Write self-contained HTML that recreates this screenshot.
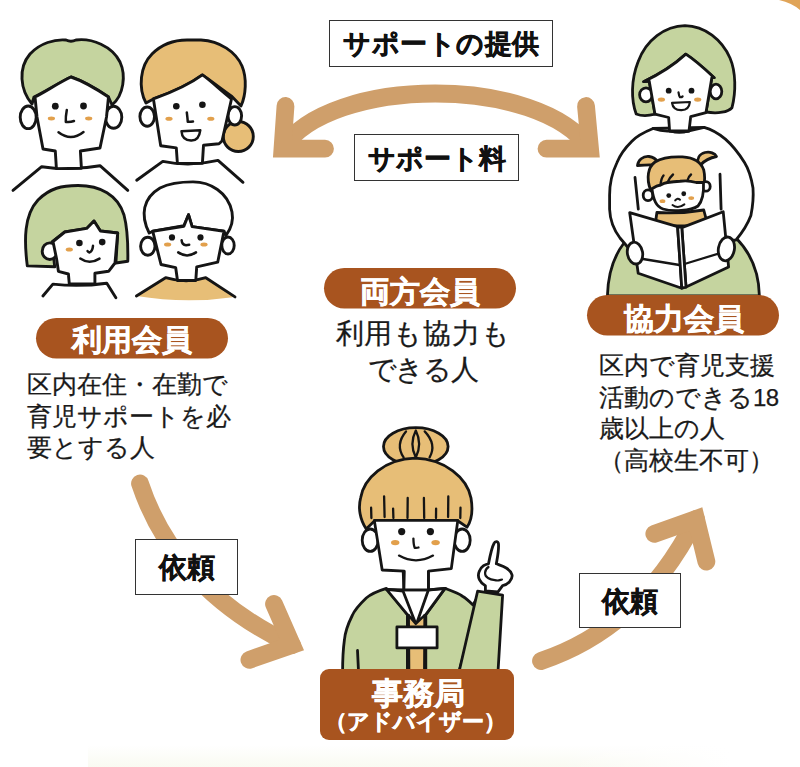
<!DOCTYPE html>
<html lang="ja">
<head>
<meta charset="utf-8">
<style>
html,body{margin:0;padding:0;background:#fff;}
body{text-spacing-trim:space-all;width:800px;height:767px;position:relative;overflow:hidden;font-family:"Liberation Sans",sans-serif;color:#1a1a1a;}
svg{position:absolute;left:0;top:0;}
.t{position:absolute;white-space:nowrap;line-height:1;}
.box{position:absolute;border:1.5px solid #333;background:#fff;box-sizing:border-box;}
.lbl{position:absolute;font-weight:bold;color:#111;-webkit-text-stroke:0.5px #111;white-space:nowrap;line-height:1;}
.pill{position:absolute;color:#fff;font-weight:bold;-webkit-text-stroke:0.5px #fff;white-space:nowrap;line-height:1;}
.p{position:absolute;font-size:25px;line-height:31.5px;white-space:nowrap;color:#1a1a1a;-webkit-text-stroke:0.25px #1a1a1a;}
</style>
</head>
<body>
<svg width="800" height="767" viewBox="0 0 800 767">
  <!-- bottom cream band -->
  <defs><linearGradient id="band" x1="0" y1="0" x2="0" y2="1"><stop offset="0" stop-color="#FFFFFF"/><stop offset="1" stop-color="#F9FAF1"/></linearGradient><linearGradient id="fadeR" x1="0" y1="0" x2="1" y2="0"><stop offset="0" stop-color="#fff" stop-opacity="0"/><stop offset="0.9" stop-color="#fff" stop-opacity="1"/></linearGradient></defs>
  <rect x="88" y="745" width="660" height="23" fill="url(#band)"/>
  <rect x="560" y="740" width="190" height="28" fill="url(#fadeR)"/>
  <!-- top right corner -->
  <path d="M779,0 Q792,3 800,10 L800,0 Z" fill="#E0A458"/>

  <g id="arrows" fill="none" stroke="#CF9F6B" stroke-width="17.8" stroke-linecap="round" stroke-linejoin="miter">
    <path d="M282,149 C330,75 540,75 590,149" stroke-linecap="butt"/>
    <path d="M285.5,106 L282.5,148.7 L325,148.7"/>
    <path d="M586,106 L590,148.7 L546.5,148.7"/>
    <path d="M140,483.5 C158.8,540.2 201.6,601.8 292,645" stroke-linecap="round"/>
    <path d="M274,604 L292,645 L249.4,659.8"/>
    <path d="M541,661 C600,641 654,601 696,519"/>
    <path d="M654.3,533.8 L696,519 L706.4,561.7"/>
  </g>


  <g id="left-group" stroke="#151515" stroke-width="2.9" stroke-linejoin="round" stroke-linecap="round">
    <!-- face 1 shoulders -->
    <path d="M13,190.4 L41.7,166.7 Q70,171 100,165.7 L127.8,190.4" fill="#fff"/>
    <!-- face 1 -->
    <path d="M32,104 C20,90 18,68 30,54 C40,43 55,39 66,40 Q71,42.5 76,40 C92,38 112,46 120,62 C126,75 124,95 112,105 L108.5,97 C95,88 80,80 71,77 C60,82 45,92 34,97 Z" fill="#C5D49F"/>
    <ellipse cx="28.2" cy="117.3" rx="8" ry="11.3" fill="#fff"/>
    <ellipse cx="113.6" cy="117.3" rx="8.2" ry="11" fill="#fff"/>
    <path d="M35,97 C45,92 60,82 71,77 C80,80 95,88 108.5,97 L106.5,117 L100,148 L80.4,151 L81.4,168.3 L56.4,168.6 L55.3,151 L43,149 L37,117 Z" fill="#fff"/>
    <!-- face 2 shoulders -->
    <path d="M136.7,180.2 L162.8,161.4 Q190,167 218,160.4 L243,182.3" fill="#fff"/>
    <circle cx="238.3" cy="136.5" r="15" fill="#E7BE77"/>
    <path d="M146,103 C138,88 140,66 152,54 C162,44 175,40 187,40 L201,40 C220,41 236,52 242,66 C247,78 246,95 241,106 L231.9,96.4 C220,88 210,80 202.4,74.9 C190,84 170,93 153.4,98.9 Z" fill="#E7BE77"/>
    <ellipse cx="147.2" cy="116.6" rx="7.3" ry="9.6" fill="#fff"/>
    <ellipse cx="234.8" cy="115.8" rx="6.8" ry="9.2" fill="#fff"/>
    <path d="M153.4,98.9 C170,93 190,84 202.4,74.9 C210,80 220,90 231.5,99 L222,141 L219,143.8 L203.5,145.3 L202.4,163.3 L177.4,163.5 L176.3,147.9 L160.7,145.8 Z" fill="#fff"/>
    <!-- face 3 -->
    <path d="M42.9,296 L52.9,284.1 Q80,287 106.8,283.2 L115.9,297.8" fill="#fff"/>
    <path d="M27.3,265.9 C24,240 24,215 38,200 C50,188 62,185.5 78,185.5 C100,185.5 118,195 124,215 C128,230 128,250 127.8,261.3 L115.9,263 L117.7,233 L100.4,231 L94,221 L86.7,228.4 L64.8,232 L52,242 L54.7,266.8 Z" fill="#C5D49F"/>
    <ellipse cx="49.8" cy="251.2" rx="7.6" ry="8.3" fill="#fff"/>
    <path d="M53,241.5 L64.8,232 L86.7,228.4 L94,221 L100.4,231 L117.7,233 L115,263 L108.6,271.3 L94.9,273.2 L94.9,283.6 L69.3,283.9 L68.4,274 L58.4,271.3 L56.6,259 Z" fill="#fff"/>
    <!-- face 4 -->
    <path d="M136.4,296 L165.6,277.7 Q186.6,284 205.8,277.7 L235,296.9 Q186,304 136.4,296 Z" fill="#E7BE77" stroke="none"/>
    <path d="M136.4,296 L165.6,277.7 Q186.6,284 205.8,277.7 L235,296.9" fill="none"/>
    <path d="M149.2,233 C140,215 143,198 160,188 C172,182 185,181.9 193,181.9 C210,182 228,192 232,212 C234,222 230,230 225.9,235.7 L224,231.2 L192.1,226.6 L188.5,214.7 L183.9,225.7 L152.9,231.2 Z" fill="#fff"/>
    <ellipse cx="147.8" cy="246.3" rx="7.2" ry="9" fill="#fff"/>
    <ellipse cx="228" cy="245.5" rx="6.2" ry="8.5" fill="#fff"/>
    <path d="M152.7,231.2 L183.9,226.2 L188.5,214.7 L192.1,226.6 L224,231.2 L217.7,262.2 L196.7,266.8 L195.8,280.5 L177.5,280.5 L175.7,267.7 L161,264.5 Z" fill="#fff"/>
  </g>
  <g id="faces-details" fill="#151515" stroke="none">
    <circle cx="55.3" cy="106.2" r="3.4"/><circle cx="83.5" cy="106" r="3.4"/>
    <circle cx="176.3" cy="106.2" r="3.3"/><circle cx="202.4" cy="104.7" r="3.3"/>
    <circle cx="79.4" cy="243" r="3.3"/><circle cx="102.2" cy="242.1" r="3.3"/>
    <circle cx="172" cy="237.4" r="3.1"/><circle cx="200.5" cy="237.4" r="3.1"/>
  </g>
  <g id="cheeks" fill="#E2A04C" stroke="none">
    <ellipse cx="51.4" cy="118.5" rx="3.6" ry="1.9"/><ellipse cx="88.7" cy="118.5" rx="3.6" ry="1.9"/>
    <ellipse cx="169" cy="118.7" rx="3.6" ry="2"/><ellipse cx="210.8" cy="118.7" rx="3.6" ry="2"/>
    <ellipse cx="69.3" cy="249.4" rx="3.6" ry="2"/>
    <ellipse cx="167.6" cy="244.6" rx="3.6" ry="2"/><ellipse cx="204" cy="244.6" rx="3.6" ry="2"/>
  </g>
  <g id="mouths" fill="none" stroke="#151515" stroke-width="2.5" stroke-linecap="round" stroke-linejoin="round">
    <path d="M66.8,110 Q65.5,117 65.8,121.9 Q70,122.5 74,121"/>
    <path d="M58.5,132.3 Q71,142 83.5,132"/>
    <path d="M186.8,112.4 Q187.5,118 187.8,121.8 Q190,122 193,121.4"/>
    <path d="M181.5,131.2 L200.3,130.2 Q199,141 191,140.6 Q182,140 181.5,131.2 Z" fill="#fff"/>
    <path d="M93,245.8 Q92.5,251 89.5,252.5 Q88,252 87.5,251"/>
    <path d="M80.3,258.6 Q89.4,265 99.5,258.6"/>
    <path d="M181.6,240.2 Q182,245 186,245.2 L189.2,244.7"/>
    <path d="M178.2,252.4 Q187,258.5 196,252.4"/>
  </g>

  <g id="right-fig" stroke="#151515" stroke-width="2.8" stroke-linejoin="round" stroke-linecap="round">
    <!-- lap -->
    <path d="M624,243 C614,256 608,272 607.4,296 L759.4,296 C759,275 752,254 736,238 Z" fill="#C5D49F"/>
    <!-- body sweater -->
    <path d="M653.1,128.5 C642,133 636,137 631.9,141.2 C625,148 620,155 617,162.5 C612,173 609.6,182 609.6,195 L609.6,209.2 C610,220 614,230 620,238 L627.6,247 L736,240 C742,233 747,226 750.9,215.6 C753,205 753.5,195 753,188 C751,176 748,168 744.5,162.5 C738,152 731,144 725.4,139.1 C718,133 710,129 704.1,127.4 Z" fill="#fff"/>
    <path d="M635,177.4 L638.3,209.2 M720,174.2 L721.1,209.2" fill="none"/>
    <!-- neck -->
    <path d="M669,112 L669.6,131 Q680,133.5 689,130.8 L689.5,112 Z" fill="#fff"/>
    <path d="M653.1,128.5 Q662,131.5 669.6,131 Q680,133.5 689,130.8 Q697,129 704.1,127.4" fill="none"/>
    <!-- head -->
    <path d="M636.2,114 C631,100 631,80 638,62 C646,40 665,26 685,25.7 C705,26 722,40 730,58 C736,72 736,92 732,107.7 C728,112 718,114 706,112 L711.8,77.7 L714.2,77.7 C706,70 695,60 685.8,54.1 C675,64 660,74 643.6,81.7 L649.2,81 L655,114.2 C648,116 641,116 636.2,114 Z" fill="#C5D49F"/>
    <ellipse cx="646" cy="94.8" rx="6.4" ry="7" fill="#fff"/>
    <ellipse cx="716" cy="91.5" rx="5.8" ry="7.3" fill="#fff"/>
    <path d="M643.6,81.7 C660,74 675,64 685.8,54.1 C695,60 706,70 714.2,77.7 L711.8,77.7 L706,112.6 L690.7,116.7 L689,131 L669.6,131 L668.7,117.5 L655,114.2 L649.2,81 Z" fill="#fff"/>
    <!-- child pigtails -->
    <path d="M637.5,165.5 C638,160 643,156 649,156.5 C653,157 656,159 657.5,162 L655,165 C649,164.5 643,165 637.5,165.5 Z" fill="#E7BE77"/>
    <path d="M698,164 C697,159 699,154 705,152.5 C710,151.5 715,153 716.5,156.5 C711,157.5 705,160 700.5,165 Z" fill="#E7BE77"/>
    <!-- child shirt -->
    <path d="M655,226 L656.9,212.5 Q680,214 703.75,210 L708,226 Z" fill="#E7BE77"/>
    <!-- child hair -->
    <path d="M650.6,190 C646,178 648,167 655,162 C663,157 673,156.5 682.5,156.9 C693,157.5 701,162 703.75,170 C705,176 705,181 703.75,186 L651,192 Z" fill="#E7BE77"/>
    <!-- child ears -->
    <ellipse cx="648" cy="195.2" rx="4.8" ry="5.4" fill="#fff"/>
    <ellipse cx="705.8" cy="186.4" rx="4.4" ry="4.8" fill="#fff"/>
    <!-- child face -->
    <path d="M651.9,188.75 Q657,185.5 660.6,185 Q664,183 667.5,182.5 Q674,181.5 680,181.25 Q688,180 696.25,182.5 Q700,182.5 703.5,182.5 C704,193 702.5,201 698,206 C691,211 672,212 663,209 C656,206.5 653.5,200 651.9,188.75 Z" fill="#fff"/>
    <path d="M660.6,185 Q661,178.5 663.5,175.5 M667.5,182.5 Q670,177 673,174.5 M687.5,180.5 Q688.5,176.5 691,174.5" fill="none" stroke-width="2.4"/>
    <!-- book -->
    <path d="M629.7,212.7 L677.6,226.6 L681.8,288.2 L638.2,273.3 Z" fill="#fff"/>
    <path d="M681.8,227.6 L723.2,211.7 L728.6,267 L686,287.1 Z" fill="#fff"/>
    <path d="M677.6,226.6 L681.8,227.6 L686,287.1 L681.8,288.2 Z" fill="#fff"/>
    <path d="M637,258 L679.5,265 M684.5,264 L727,251" fill="none" stroke-width="2.3"/>
    <!-- hands -->
    <ellipse cx="635" cy="253.1" rx="7.6" ry="11" fill="#fff" transform="rotate(-10 635 253.1)"/>
    <ellipse cx="726.4" cy="248.9" rx="8" ry="12" fill="#fff" transform="rotate(10 726.4 248.9)"/>
  </g>
  <g fill="#151515" stroke="none">
    <circle cx="668.7" cy="90.7" r="2.9"/><circle cx="691.5" cy="90.7" r="2.9"/>
    <circle cx="668.75" cy="195.6" r="2.4"/><circle cx="683.75" cy="193.75" r="2.4"/>
  </g>
  <g fill="#E2A04C" stroke="none">
    <ellipse cx="661.4" cy="99.6" rx="3.6" ry="2.2"/><ellipse cx="697.7" cy="99.6" rx="3.6" ry="2.2"/>
    <ellipse cx="662.5" cy="201.2" rx="2.9" ry="1.9"/><ellipse cx="691.25" cy="198.1" rx="2.9" ry="1.9"/>
  </g>
  <g fill="none" stroke="#151515" stroke-width="2.2" stroke-linecap="round" stroke-linejoin="round">
    <path d="M678.5,92.3 Q679,96 680,97.2 Q681.5,97.5 682.6,96.4"/>
    <path d="M672,102.9 L689.9,102 Q689,110.5 681,110.2 Q673,110 672,102.9 Z" fill="#fff"/>
    <path d="M675.2,200.4 Q677.5,197.2 680,199.8" stroke-width="2"/>
    <path d="M672.5,205 Q678,209.2 684.4,204.4" stroke-width="2"/>
  </g>

  <g id="center-fig" stroke="#151515" stroke-width="2.8" stroke-linejoin="round" stroke-linecap="round">
    <!-- cardigan left -->
    <path d="M386.4,588.4 C378,591 371,594 366.25,598 C360,604 355,609 352.25,615.5 C347,626 345,633 344.4,640 C343,650 342.6,660 342.6,672 L407.4,672 L407.4,614.6 Z" fill="#C5D49F"/>
    <!-- cardigan right -->
    <path d="M445,588.4 C452,591 458,593 462.5,596.25 C467,599 470,602 473,605 L480,592.75 L459,672 L425.8,672 L425.8,614.6 Z" fill="#C5D49F"/>
    <!-- shirt -->
    <path d="M386.4,589.3 L403,591 L415.3,622.5 L407.4,614.6 Z" fill="#fff"/>
    <path d="M445,588.4 L428.4,590 L417,622.5 L425.8,614.6 Z" fill="#fff"/>
    <!-- lanyard -->
    <path d="M408.5,615.5 L415.3,622.5 L417,622.5 L424.8,615.5 L424.3,671 L409,671 Z" fill="#E7BE77" stroke="none"/>
    <path d="M408.8,615 L409.2,671 M424.5,615 L424.2,671 M409,616 L415.8,624 L424,616" fill="none" stroke-width="2.2"/>
    <rect x="396.9" y="626.9" width="40.2" height="21" fill="#fff"/>
    <path d="M357.5,650.5 L358.4,669" fill="none"/>
    <!-- neck -->
    <path d="M403,566 L403.9,589.8 L428.4,589.8 L428.4,566 Z" fill="#fff"/>
    <path d="M386.4,589.3 L403.9,589.8 M428.4,589.8 L445,588.4" fill="none"/>
    <!-- ears -->
    <ellipse cx="370.2" cy="540.2" rx="8" ry="11.2" fill="#fff"/>
    <ellipse cx="462.2" cy="540.2" rx="8" ry="11.2" fill="#fff"/>
    <!-- bun -->
    <ellipse cx="415.8" cy="446.5" rx="32.3" ry="18.8" fill="#E7BE77"/>
    <path d="M415.8,430.5 Q409,444 415.8,457.5 Q422.5,444 415.8,430.5 Z M406,431.4 Q395,444.4 403.6,457.4 M424.7,431.4 Q437,444.4 429.6,457.4" fill="none" stroke-width="2.3"/>
    <!-- main hair -->
    <path d="M366.2,528.9 C360,520 358,508 360.6,498 C364,478 385,459 415,458.2 C445,459 467,478 471,498 C473,510 472,520 467,527.2 L458,521 L374.4,521 Z" fill="#E7BE77"/>
    <path d="M371.1,507.7 L371.4,518 M384.1,496.4 L384.6,517 M393.1,508.6 L393.4,518 M407.7,498 L407.5,518 M423.9,498 L424.2,518 M436.1,508.6 L436,518 M448.3,496.4 L448.1,517 M460.5,507.7 L460.3,518" fill="none" stroke-width="2.3"/>
    <!-- face -->
    <path d="M374.3,520.4 L457.8,520.4 L451.3,568.6 L428.4,571.2 L428.4,589.8 L403.9,589.8 L404.3,571.2 L382.2,570 Z" fill="#fff"/>
    <!-- raised arm sleeve -->
    <path d="M477.6,591.2 L502.6,595.1 L498,672 L459,672 Z" fill="#C5D49F"/>
    <!-- hand -->
    <path d="M485.4,591 L485.4,585.7 C480,583 477,577 479.1,571.7 C481,566 486,564 488.5,563.8 C490,556 492,547 494,543.5 C495,541 498,541 498.5,544 C499,550 497.5,557 496.3,563.8 C502,566 510,568 512,574.8 C513,580 507,585 502.6,585.7 L498,591.8 Z" fill="#fff"/>
    <path d="M488.5,567 C484,570 484,576 488,578 C491,580 494,580 496,580.3 C498,581 500,580 502,579.5" fill="none" stroke-width="2.2"/>
  </g>
  <g fill="#151515" stroke="none">
    <circle cx="401.7" cy="531.6" r="3.6"/><circle cx="430.4" cy="531.6" r="3.6"/>
  </g>
  <g fill="#E2A04C" stroke="none">
    <ellipse cx="395.2" cy="542.6" rx="4.2" ry="2.7"/><ellipse cx="435.6" cy="542.6" rx="4.2" ry="2.7"/>
  </g>
  <g fill="none" stroke="#151515" stroke-width="2.3" stroke-linecap="round" stroke-linejoin="round">
    <path d="M413.4,538.6 Q413.5,545 414.7,547.8 Q417,548 418.5,547.5"/>
    <path d="M399,555.6 Q416,565 433,555.6"/>
  </g>

  <!-- pills -->
  <rect x="36" y="318" width="192" height="40.5" rx="20.25" fill="#A8541F"/>
  <rect x="324" y="268" width="192" height="40.5" rx="20.25" fill="#A8541F"/>
  <rect x="587" y="295" width="192" height="40.5" rx="20.25" fill="#A8541F"/>
  <rect x="320" y="669" width="194" height="71" rx="9" fill="#A8541F"/>
</svg>

<div class="box" style="left:329px;top:20px;width:224px;height:47px;"></div>
<div class="box" style="left:354px;top:134px;width:165px;height:47px;"></div>
<div class="box" style="left:135px;top:539px;width:103px;height:56px;"></div>
<div class="box" style="left:579px;top:573px;width:102px;height:55px;"></div>

<div class="lbl" style="left:343.4px;top:29.5px;font-size:27.2px;letter-spacing:0.5px;">サポートの提供</div>
<div class="lbl" style="left:367.5px;top:145px;font-size:27.2px;">サポート料</div>
<div class="lbl" style="left:159px;top:553.5px;font-size:28px;">依頼</div>
<div class="lbl" style="left:602px;top:587.5px;font-size:28px;">依頼</div>

<div class="pill" style="left:72px;top:325.3px;font-size:30px;">利用会員</div>
<div class="pill" style="left:359.5px;top:275.5px;font-size:30.4px;">両方会員</div>
<div class="pill" style="left:623.5px;top:302.7px;font-size:30.4px;">協力会員</div>
<div class="pill" style="left:372px;top:678px;font-size:31px;">事務局</div>
<div class="pill" style="left:325px;top:710.5px;font-size:22px;">（アドバイザー）</div>

<div class="p" style="left:26.5px;top:369px;">区内在住・在勤で<br>育児サポートを必<br>要とする人</div>
<div class="p" style="left:320px;top:316px;font-size:27.5px;line-height:36px;text-align:center;width:200px;"><span style="letter-spacing:0.8px;margin-left:6px">利用も協力も</span><br><span style="letter-spacing:-1.4px;margin-left:5px">できる人</span></div>
<div class="p" style="left:599px;top:350px;">区内で育児支援<br>活動のできる<span style="font-size:24px;letter-spacing:-0.5px">18</span><br>歳以上の人<br>（高校生不可）</div>

</body>
</html>
